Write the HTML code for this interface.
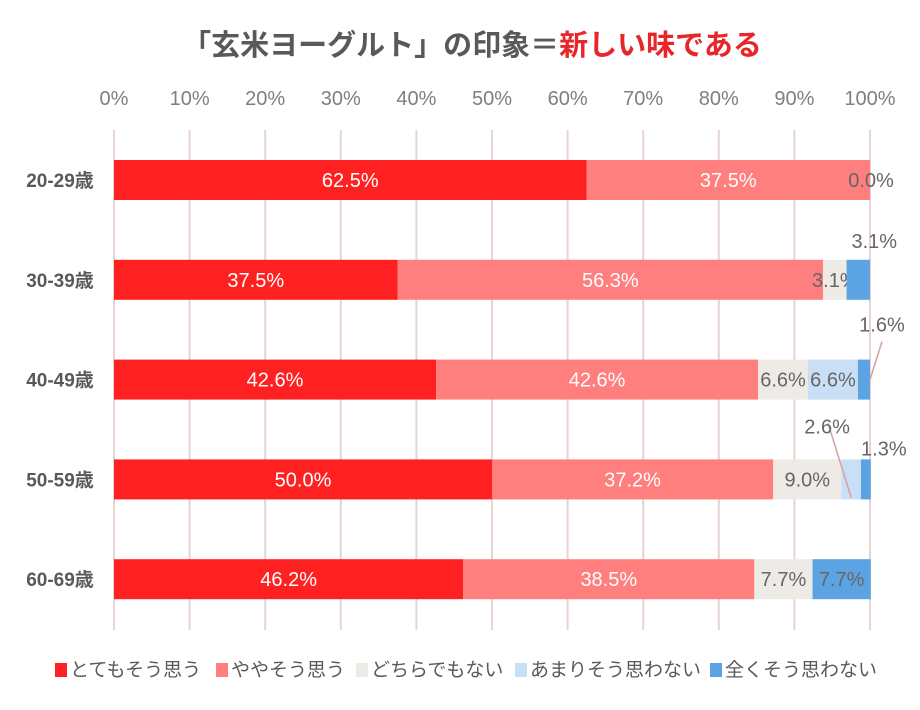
<!DOCTYPE html>
<html><head><meta charset="utf-8"><style>
body{margin:0;background:#fff;}
svg text{font-family:"Liberation Sans","Noto Sans CJK JP",sans-serif;}
</style></head><body>
<svg id="c" width="920" height="705" xmlns="http://www.w3.org/2000/svg">
<text x="472" y="55" text-anchor="middle" font-size="29" font-weight="bold" fill="#595959">「玄米ヨーグルト」の印象＝<tspan fill="#E8262A">新しい味である</tspan></text>
</svg>
<script>
const categories=["20-29歳","30-39歳","40-49歳","50-59歳","60-69歳"];
const seriesNames=["とてもそう思う","ややそう思う","どちらでもない","あまりそう思わない","全くそう思わない"];
const s1=[62.5,37.5,42.6,50.0,46.2];
const s2=[37.5,56.3,42.6,37.2,38.5];
const s3=[0,3.1,6.6,9.0,7.7];
const s4=[0,0,6.6,2.6,0];
const s5=[0,3.1,1.6,1.3,7.7];
const ticks=[0,10,20,30,40,50,60,70,80,90,100];
const series=[s1,s2,s3,s4,s5];
const colors=["#FF2121","#FF7F7F","#EEEBE6","#C9DFF5","#5BA3E3"];
const txtCol=["#fff","#fff","#666","#666","#666"];
const svg=document.getElementById('c');
const NS="http://www.w3.org/2000/svg";
const x=v=>114+v*7.56;
const y=i=>180+i*99.8;
function mk(t,a,txt){const e=document.createElementNS(NS,t);for(const k in a)e.setAttribute(k,a[k]);if(txt!==undefined)e.textContent=txt;svg.appendChild(e);return e;}
ticks.forEach(t=>{
 const g=mk('line',{x1:x(t),x2:x(t),y1:130,y2:630,stroke:'#E6D3D3','stroke-width':2});
 
 
 const l=mk('text',{x:x(t),y:105,'text-anchor':'middle','font-size':20,fill:'#7f7f7f'},t+'%');
 
 
});
const outside={"1-4":{dx:16,dy:-32},"2-4":{dx:18,dy:-48,line:true},"3-3":{dx:-24,dy:-46,line:true},"3-4":{dx:18,dy:-24}};
categories.forEach((c,i)=>{
 const cl=mk('text',{x:60,y:y(i)+7,'text-anchor':'middle','font-size':19,'font-weight':'bold',fill:'#595959'},c);
 
 
 let acc=0;
 series.forEach((s,j)=>{
  const v=s[i];const x0=x(acc),x1=x(acc+v);acc+=v;
  if(v>0){
   const r=mk('rect',{x:x0,y:y(i)-20,width:x1-x0,height:40,fill:colors[j]});
   
   
  }
  const key=i+'-'+j;
  if(i===0&&j>=2){ if(j===2){const t=mk('text',{x:x1+1,y:y(i)+7,'text-anchor':'middle','font-size':20,fill:'#666'},'0.0%');} return;}
  if(v===0)return;
  const cx=(x0+x1)/2;
  if(outside[key]){
   const o=outside[key];
   if(o.line){const ln=mk('line',{x1:j===4?x1:cx,y1:j===4?y(i):y(i)+18,x2:cx+o.dx+(j===4?0:1),y2:y(i)+o.dy+18-(j===4?8:28),stroke:'#D9A0A0','stroke-width':1.5});}
   const t=mk('text',{x:cx+o.dx,y:y(i)+o.dy,'text-anchor':'middle','font-size':20,fill:'#666'},v.toFixed(1)+'%');
   
   
  } else {
   const t=mk('text',{x:cx,y:y(i)+7,'text-anchor':'middle','font-size':20,fill:txtCol[j]},v.toFixed(1)+'%');
   
   
  }
 });
});
const lx=[55,216,356,515,710];
seriesNames.forEach((n,j)=>{
 const r=mk('rect',{x:lx[j],y:663,width:12,height:14,fill:colors[j]});
 
 
 const t=mk('text',{x:lx[j]+15,y:676,'font-size':19,fill:'#595959'},n);
 
 
});
</script>
</body></html>
